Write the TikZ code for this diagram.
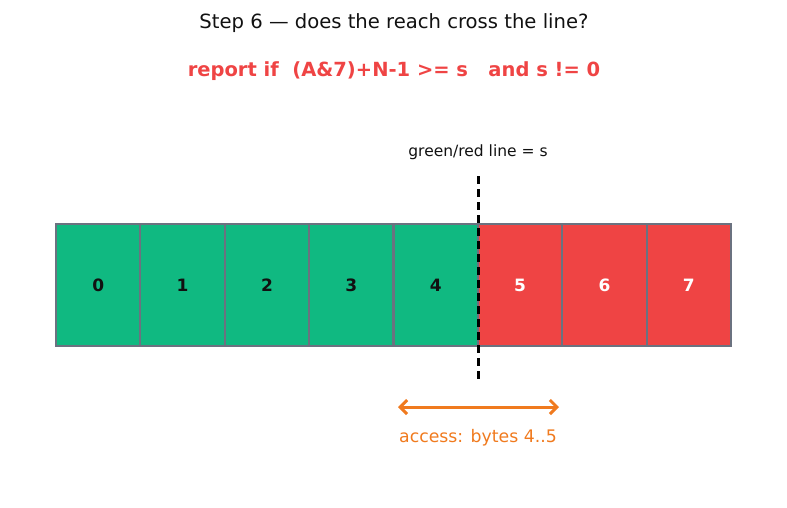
\documentclass[tikz,border=0pt]{standalone}
\usepackage{fontspec}
\setmainfont{DejaVu Sans}
\usetikzlibrary{positioning}
\usetikzlibrary{arrows.meta}
\definecolor{cellgreen}{HTML}{10B981}
\definecolor{cellred}{HTML}{EF4444}
\definecolor{cellgray}{HTML}{6B7280}
\definecolor{accorange}{HTML}{F07A1E}
\definecolor{titlegray}{HTML}{111111}

\begin{document}
\begin{tikzpicture}[x=1pt,y=-1pt]
\tikzset{
  cell/.style={rectangle,draw=none,outer sep=0pt,minimum width=84.375pt,minimum height=122pt,inner sep=0pt,anchor=north west,font=\fontsize{17}{20}\selectfont\bfseries},
  greencell/.style={cell,fill=cellgreen,text=titlegray},
  redcell/.style={cell,fill=cellred,text=white},
  cellborder/.style={draw=cellgray,line width=2.2pt},
  sline/.style={black,line width=3pt,dash pattern=on 8pt off 5pt},
  reach/.style={accorange,line width=3pt,{Straight Barb[length=7pt,width=14pt]}-{Straight Barb[length=7pt,width=14pt]}}
}
\useasboundingbox (0,0) rectangle (787,507);

\node[font=\fontsize{19.6}{23}\selectfont,text=titlegray] (title) at (394,23) {Step 6 — does the reach cross the line?};
\node[font=\fontsize{19.5}{23}\selectfont\bfseries,text=cellred] (rule) at (394,71) {report if\ \ (A\&7)+N-1 >= s\ \ \ and s != 0};

% byte cells
\foreach \i in {0,...,4}{
  \node[greencell] (b\i) at (56+84.375*\i,224) {\i};
}
\foreach \i in {5,...,7}{
  \node[redcell] (b\i) at (56+84.375*\i,224) {\i};
}
\foreach \i in {0,...,7}{
  \draw[cellborder] (b\i.north west) rectangle (b\i.south east);
}

% boundary s
\coordinate (sTop) at (478,176);
\coordinate (sBot) at (478,382);
\draw[sline] (sTop) -- (sBot);
\node[font=\fontsize{15.5}{18}\selectfont,text=titlegray] (slabel) at (478,152) {green/red line = s};

% access range
\coordinate (accL) at (398,407);
\coordinate (accR) at (559,407);
\draw[reach] (accL) -- (accR);
\node[font=\fontsize{17.3}{20}\selectfont,text=accorange] (acclabel) at (478,438) {access: bytes 4..5};

\end{tikzpicture}
\end{document}
